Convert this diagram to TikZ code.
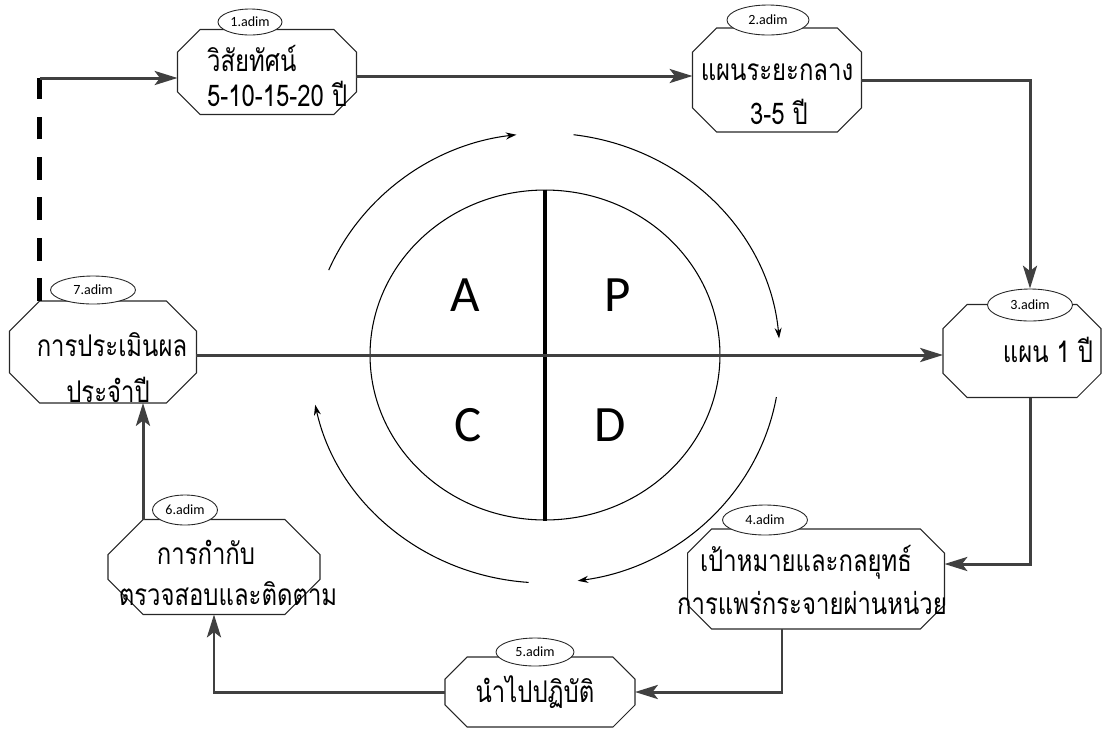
\documentclass[tikz,border=0pt]{standalone}
\usepackage{fontspec}
\newfontfamily\thai[Script=Thai, FakeStretch=0.8]{Loma}
\newfontfamily\lat{Carlito}
\usepackage{tikz}
\usetikzlibrary{positioning, arrows.meta, shapes.geometric}

% outline of a box with its four corners cut off
\newcommand{\octo}[2]{%
  \draw[octline] ([xshift=#2]#1.north west) -- ([xshift=-#2]#1.north east)
    -- ([yshift=-#2]#1.north east) -- ([yshift=#2]#1.south east)
    -- ([xshift=-#2]#1.south east) -- ([xshift=#2]#1.south west)
    -- ([yshift=#2]#1.south west) -- ([yshift=-#2]#1.north west) -- cycle;}

\begin{document}
\begin{tikzpicture}[
  x=0.02cm, y=-0.02cm,
  box/.style={inner sep=0pt, outer sep=0pt},
  octline/.style={draw=black!85, line width=0.6pt},
  tag/.style={draw=black!85, line width=0.5pt, ellipse, fill=white, inner sep=0pt,
              font=\lat\fontsize{8}{9}\selectfont},
  lbl/.style={font=\thai\fontsize{17}{20}\selectfont, inner sep=1pt},
  pdcalbl/.style={font=\lat\fontsize{29}{30}\selectfont},
  conn/.style={draw=black!75, line width=1.7pt},
  arr/.style={conn, -{Stealth[length=13pt, width=8pt, inset=3pt]}},
  dashln/.style={draw=black, line width=2.6pt, dash pattern=on 13pt off 10pt},
  cyc/.style={line width=0.6pt, -{Stealth[length=6pt, width=4pt]}},
]
  \useasboundingbox (0,0) rectangle (1103,745);

  % PDCA circle
  \node[draw, ellipse, line width=0.6pt, minimum width=7cm, minimum height=6.6cm, inner sep=0pt] (pdca) at (545,355) {};
  \draw[line width=2.2pt] (pdca.north) -- (pdca.south);
  \node[pdcalbl] (la) at (465,295) {A};
  \node[pdcalbl] (lp) at (618,295) {P};
  \node[pdcalbl] (lc) at (468,425) {C};
  \node[pdcalbl] (ld) at (610,425) {D};

  % cycle arrows round the circle
  \coordinate (c) at (545,358);
  \draw[cyc] (c) ++(157:4.7cm and 4.5cm) arc[start angle=157, end angle=97, x radius=4.7cm, y radius=4.5cm];
  \draw[cyc] (c) ++(83:4.7cm and 4.5cm) arc[start angle=83, end angle=5, x radius=4.7cm, y radius=4.5cm];
  \draw[cyc] (c) ++(-10:4.7cm and 4.5cm) arc[start angle=-10, end angle=-82, x radius=4.7cm, y radius=4.5cm];
  \draw[cyc] (c) ++(-94:4.7cm and 4.5cm) arc[start angle=-94, end angle=-168, x radius=4.7cm, y radius=4.5cm];

  % the seven steps
  \node[box, minimum width=3.58cm, minimum height=1.7cm] (vis) at (267,72) {};
  \node[box, minimum width=3.38cm, minimum height=2.08cm] (mid) at (777,80) {};
  \node[box, minimum width=3.16cm, minimum height=1.86cm] (plan) at (1022,351) {};
  \node[box, minimum width=5.14cm, minimum height=2.0cm] (goal) at (816,579) {};
  \node[box, minimum width=3.8cm, minimum height=1.4cm] (act) at (540,692) {};
  \node[box, minimum width=4.24cm, minimum height=1.9cm] (mon) at (214,567) {};
  \node[box, minimum width=3.74cm, minimum height=2.04cm] (eval) at (103,352) {};
  \octo{vis}{0.45cm}
  \octo{mid}{0.48cm}
  \octo{plan}{0.48cm}
  \octo{goal}{0.48cm}
  \octo{act}{0.44cm}
  \octo{mon}{0.7cm}
  \octo{eval}{0.6cm}

  % connectors
  \coordinate (dbot) at ([xshift=0.6cm]eval.north west);
  \coordinate (dtop) at (dbot |- 0,78);
  \draw[dashln] (dbot) -- (dtop);
  \draw[arr] (dtop) -- (dtop -| vis.west);
  \coordinate (y12) at (0,76);
  \draw[arr] (y12 -| vis.east) -- (y12 -| mid.west);
  \node[tag, minimum width=1.7cm, minimum height=0.64cm] (tag3) at (1030,305) {3.adim};
  \draw[arr] (mid.east) -| (tag3.north);
  \draw[arr] (plan.south -| tag3) |- ([yshift=0.3cm]goal.east);
  \draw[arr] (goal.south -| 782,0) |- (act.east);
  \draw[arr] (act.west) -| (mon.south);
  \draw[arr] ([xshift=0.7cm]mon.north west) -- ([xshift=0.7cm]mon.north west |- eval.south);
  \draw[arr] (eval.east |- pdca) -- (plan.west |- pdca);

  % step tags
  \node[tag, minimum width=1.28cm, minimum height=0.52cm] (tag1) at (250,22) {1.adim};
  \node[tag, minimum width=1.64cm, minimum height=0.6cm] (tag2) at (768,20) {2.adim};
  \node[tag, minimum width=1.7cm, minimum height=0.6cm] (tag4) at (765,520) {4.adim};
  \node[tag, minimum width=1.56cm, minimum height=0.56cm] (tag5) at (535,652) {5.adim};
  \node[tag, minimum width=1.3cm, minimum height=0.6cm] (tag6) at (185,510) {6.adim};
  \node[tag, minimum width=1.7cm, minimum height=0.56cm] (tag7) at (93,290) {7.adim};

  % step texts
  \node[lbl, anchor=west] (t1a) at (205,58) {วิสัยทัศน์};
  \node[lbl, anchor=west] (t1b) at (205,94) {5-10-15-20 ปี};
  \node[lbl] (t2a) at (777,72) {แผนระยะกลาง};
  \node[lbl] (t2b) at (779,112) {3-5 ปี};
  \node[lbl] (t3) at (1048,350) {แผน 1 ปี};
  \node[lbl] (t4a) at (806,562) {เป้าหมายและกลยุทธ์};
  \node[lbl] (t4b) at (812,603) {การแพร่กระจายผ่านหน่วย};
  \node[lbl] (t5) at (535,692) {นำไปปฏิบัติ};
  \node[lbl] (t6a) at (206,552) {การกำกับ};
  \node[lbl] (t6b) at (228,594) {ตรวจสอบและติดตาม};
  \node[lbl] (t7a) at (112,345) {การประเมินผล};
  \node[lbl] (t7b) at (108,390) {ประจำปี};
\end{tikzpicture}
\end{document}
